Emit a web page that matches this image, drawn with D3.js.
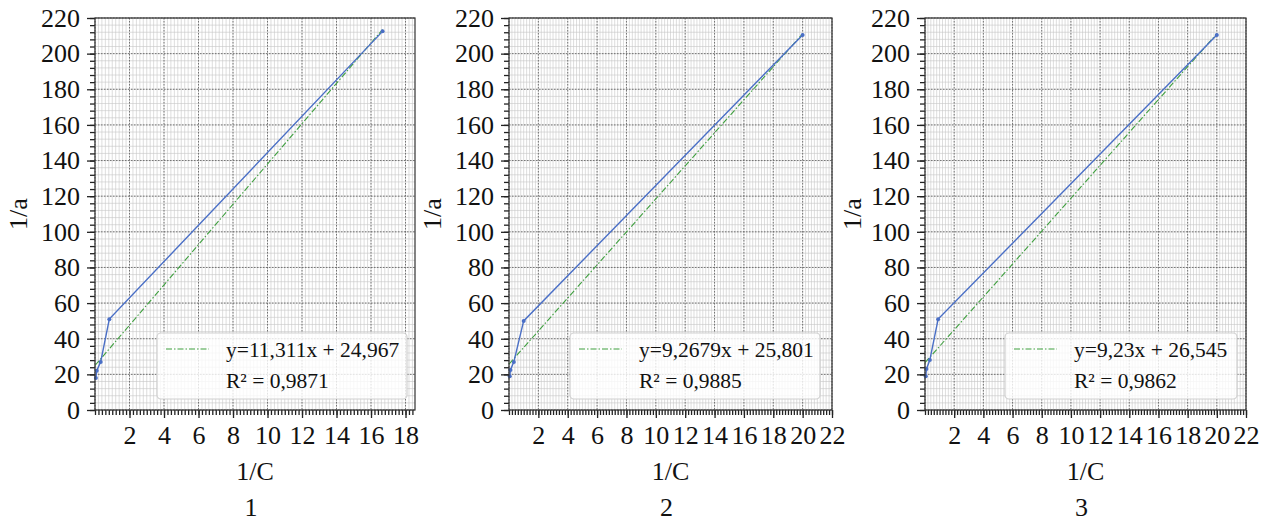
<!DOCTYPE html>
<html>
<head>
<meta charset="utf-8">
<script src="https://cdn.jsdelivr.net/npm/d3@7"></script>
<style>
  body { margin: 0; background: #fff; }
  text { font-family: "Liberation Serif", "Times New Roman", Times, serif; fill: #111; }
</style>
</head>
<body>
<div id="canvas"></div>
<script>
// values
const panelNames = ["1", "2", "3"];
const xValues1 = [0.05, 0.1, 0.33, 0.83, 16.67];
const yValues1 = [18, 22, 27, 51, 212.5];
const xValues2 = [0.05, 0.1, 0.33, 1, 20];
const yValues2 = [19, 22.5, 27, 50, 210.5];
const xValues3 = [0.05, 0.1, 0.33, 0.9, 20];
const yValues3 = [19, 23, 28, 51, 210.5];
const fitSlopes = [11.311, 9.2679, 9.23];
const fitIntercepts = [24.967, 25.801, 26.545];
const fitLabels = ["y=11,311x + 24,967", "y=9,2679x + 25,801", "y=9,23x + 26,545"];
const r2Labels = ["R\u00b2 = 0,9871", "R\u00b2 = 0,9885", "R\u00b2 = 0,9862"];
const xMaxes = [18.55, 22, 22];
const xTickLabels1 = [2, 4, 6, 8, 10, 12, 14, 16, 18];
const xTickLabels23 = [2, 4, 6, 8, 10, 12, 14, 16, 18, 20, 22];
const yTickLabels = [0, 20, 40, 60, 80, 100, 120, 140, 160, 180, 200, 220];

const w = 1273, h = 522;
const plotTop = 18, plotBottom = 410;
const frames = [
  {left: 95, right: 415, legend: [157, 407], ylab: 18},
  {left: 509, right: 832, legend: [570, 820], ylab: 432},
  {left: 925, right: 1246, legend: [1005, 1237], ylab: 852}
];
const xs = [xValues1, xValues2, xValues3];
const ys = [yValues1, yValues2, yValues3];
const xTickSets = [xTickLabels1, xTickLabels23, xTickLabels23];

const blue = "#4a6fc6", green = "#3f9f3f";

let svg = d3.select("#canvas").append("svg")
  .attr("width", w).attr("height", h);

frames.forEach(function(f, i) {
  let x = d3.scaleLinear().domain([0, xMaxes[i]]).range([f.left, f.right]);
  let y = d3.scaleLinear().domain([0, 220]).range([plotBottom, plotTop]);
  let g = svg.append("g");

  let minorX = d3.range(0, xMaxes[i] + 1e-9, 0.2);
  let minorY = d3.range(0, 220.001, 4);
  let majorX = d3.range(0, xMaxes[i] + 1e-9, 2);

  // minor grid
  g.append("g").selectAll("line").data(minorX).enter().append("line")
    .attr("x1", d => x(d)).attr("x2", d => x(d))
    .attr("y1", plotTop).attr("y2", plotBottom)
    .attr("stroke", "#c6c6c6").attr("stroke-width", 0.6);
  g.append("g").selectAll("line").data(minorY).enter().append("line")
    .attr("y1", d => y(d)).attr("y2", d => y(d))
    .attr("x1", f.left).attr("x2", f.right)
    .attr("stroke", "#c6c6c6").attr("stroke-width", 0.6);
  // major grid
  g.append("g").selectAll("line").data(majorX).enter().append("line")
    .attr("x1", d => x(d)).attr("x2", d => x(d))
    .attr("y1", plotTop).attr("y2", plotBottom)
    .attr("stroke", "#666").attr("stroke-width", 0.9).attr("stroke-dasharray", "1.5,1.5");
  g.append("g").selectAll("line").data(yTickLabels).enter().append("line")
    .attr("y1", d => y(d)).attr("y2", d => y(d))
    .attr("x1", f.left).attr("x2", f.right)
    .attr("stroke", "#666").attr("stroke-width", 0.9).attr("stroke-dasharray", "1.5,1.5");

  // trend line
  g.append("line")
    .attr("x1", x(0)).attr("y1", y(fitIntercepts[i]))
    .attr("x2", x(d3.max(xs[i]))).attr("y2", y(fitSlopes[i] * d3.max(xs[i]) + fitIntercepts[i]))
    .attr("stroke", green).attr("stroke-width", 1.1)
    .attr("stroke-dasharray", "6,2,1.5,2");

  // data line
  let pts = xs[i].map((v, k) => [v, ys[i][k]]);
  g.append("path").datum(pts)
    .attr("fill", "none").attr("stroke", blue).attr("stroke-width", 1.4)
    .attr("d", d3.line().x(d => x(d[0])).y(d => y(d[1])));
  g.append("g").selectAll("circle").data(pts).enter().append("circle")
    .attr("cx", d => x(d[0])).attr("cy", d => y(d[1])).attr("r", 2)
    .attr("fill", blue);

  // axes
  let xAxisMinor = d3.axisBottom(x).tickValues(minorX).tickSize(5).tickFormat("");
  let xAxis = d3.axisBottom(x).tickValues(xTickSets[i]).tickSize(8).tickPadding(8);
  let yAxisMinor = d3.axisLeft(y).tickValues(minorY).tickSize(5).tickFormat("");
  let yAxis = d3.axisLeft(y).tickValues(yTickLabels).tickSize(8).tickPadding(7);

  [xAxisMinor, xAxis].forEach(function(a) {
    let ax = g.append("g").attr("transform", "translate(0," + plotBottom + ")").call(a)
      .attr("font-family", null);
    ax.select(".domain").remove();
    ax.selectAll("line").attr("stroke", "#222").attr("stroke-width", 1.3);
    ax.selectAll("text").style("font-size", "26px").attr("fill", "#111");
  });
  [yAxisMinor, yAxis].forEach(function(a) {
    let ax = g.append("g").attr("transform", "translate(" + f.left + ",0)").call(a)
      .attr("font-family", null);
    ax.select(".domain").remove();
    ax.selectAll("line").attr("stroke", "#222").attr("stroke-width", 1.3);
    ax.selectAll("text").style("font-size", "26px").attr("fill", "#111");
  });

  // frame
  g.append("rect")
    .attr("x", f.left).attr("y", plotTop)
    .attr("width", f.right - f.left).attr("height", plotBottom - plotTop)
    .attr("fill", "none").attr("stroke", "#333").attr("stroke-width", 1.2);

  // legend
  let lg = g.append("g");
  lg.append("rect")
    .attr("x", f.legend[0]).attr("y", 333)
    .attr("width", f.legend[1] - f.legend[0]).attr("height", 66)
    .attr("rx", 4)
    .attr("fill", "#fff").attr("fill-opacity", 0.8)
    .attr("stroke", "#d0d0d0").attr("stroke-width", 1.2);
  lg.append("line")
    .attr("x1", f.legend[0] + 9).attr("x2", f.legend[0] + 52)
    .attr("y1", 349).attr("y2", 349)
    .attr("stroke", green).attr("stroke-width", 1.1)
    .attr("stroke-dasharray", "6,2,1.5,2");
  lg.append("text")
    .attr("x", f.legend[0] + 69).attr("y", 357)
    .style("font-size", "21.5px")
    .text(fitLabels[i]);
  lg.append("text")
    .attr("x", f.legend[0] + 69).attr("y", 388)
    .style("font-size", "21.5px")
    .text(r2Labels[i]);

  // axis titles
  let cx = (f.left + f.right) / 2;
  g.append("text").attr("x", cx).attr("y", 480)
    .attr("text-anchor", "middle").style("font-size", "26px").text("1/C");
  g.append("text").attr("x", cx - 4).attr("y", 516)
    .attr("text-anchor", "middle").style("font-size", "26px").text(panelNames[i]);
  g.append("text")
    .attr("transform", "translate(" + (f.ylab + 9) + "," + ((plotTop + plotBottom) / 2) + ") rotate(-90)")
    .attr("text-anchor", "middle").style("font-size", "26px").text("1/a");
});
</script>
</body>
</html>
